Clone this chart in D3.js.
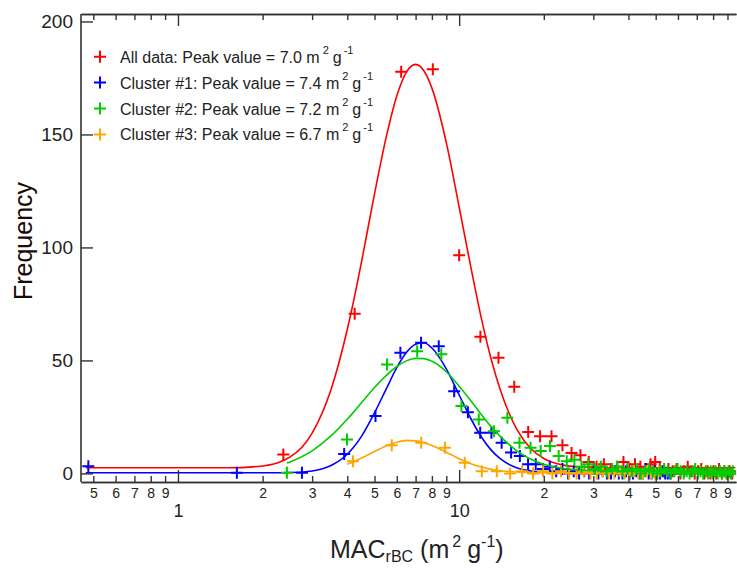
<!DOCTYPE html>
<html lang="en">
<head>
  <meta charset="UTF-8">
  <script src="https://cdnjs.cloudflare.com/ajax/libs/d3/7.8.5/d3.min.js"></script>
  <title>MAC frequency</title>
  <style>
    body { margin: 0; background: #fff; }
    text { font-family: "Liberation Sans", Arial, sans-serif; }
  </style>
</head>
<body>
<script>
  // histogram bins (MAC, m2/g) and counts
  var redBins = [2.37, 4.25, 6.22, 8.06, 10.0, 11.9, 13.8, 15.7, 17.6, 19.4, 21.3, 23.3, 25.1, 27.0, 28.9, 30.8, 32.7, 34.6, 36.5, 38.4, 40.3, 42.2, 44.1, 46.0, 47.9, 49.8, 51.7, 53.6, 55.5, 57.4, 59.3, 61.2, 63.1, 65.0, 66.9, 68.8, 70.7, 72.6, 74.5, 76.4, 78.3, 80.2, 82.1, 84.0, 85.9, 87.8, 89.7, 91.6, 93.5];
  var redCounts = [8.4, 70.7, 177.7, 178.8, 96.5, 60.5, 51.2, 38.4, 18.3, 16.5, 16.5, 12.5, 9, 8, 5, 3, 4, 2, 3, 5, 2, 4, 3, 2, 4, 5, 2, 1, 2, 1, 2, 0, 1, 3, 1, 0, 1, 2, 0, 1, 0, 1, 0, 2, 0, 1, 0, 1, 0];

  var blueBins = [0.48, 1.62, 2.76, 3.9, 5.04, 6.18, 7.32, 8.46, 9.6, 10.74, 11.88, 13.02, 14.16, 15.3, 16.44, 17.58, 18.72, 19.86, 21.0, 22.14, 23.28, 24.42, 25.56, 26.7, 27.84, 28.98, 30.12, 31.26, 32.4, 33.54, 34.68, 35.82, 36.96, 38.1, 39.24, 40.38, 41.52, 42.66, 43.8, 44.94, 46.08, 47.22, 48.36, 49.5, 50.64, 51.78, 52.92, 54.06, 55.2, 56.34];
  var blueCounts = [3.2, 0.3, 0.3, 8.6, 25.4, 53.4, 57.8, 56.3, 36.4, 27.1, 18, 18, 13.6, 9.2, 7.7, 4, 4, 2, 3, 1, 2, 0, 1, 0, 1, 0, 2, 0, 1, 0, 0, 1, 0, 0, 1, 0, 0, 1, 0, 0, 2, 0, 0, 1, 0, 0, 1, 0, 0, 0];

  var greenBins = [2.44, 3.99, 5.54, 7.09, 8.64, 10.19, 11.74, 13.29, 14.84, 16.39, 17.94, 19.49, 21.04, 22.59, 24.14, 25.69, 27.24, 28.79, 30.34, 31.89, 33.44, 34.99, 36.54, 38.09, 39.64, 41.19, 42.74, 44.29, 45.84, 47.39, 48.94, 50.49, 52.04, 53.59, 55.14, 56.69, 58.24, 59.79, 61.34, 62.89, 64.44, 65.99, 67.54, 69.09, 70.64, 72.19, 73.74, 75.29, 76.84, 78.39, 79.94, 81.49, 83.04, 84.59, 86.14, 87.69, 89.24, 90.79, 92.34, 93.89];
  var greenCounts = [0.3, 15, 48.2, 54.1, 52.7, 29.8, 23.9, 18.7, 24.6, 13.6, 11.4, 9.9, 12.1, 7.7, 5.4, 6, 3, 4, 2, 3, 1, 2, 3, 1, 2, 1, 2, 0, 1, 2, 1, 0, 1, 2, 1, 0, 1, 2, 1, 0, 1, 0, 1, 2, 0, 1, 0, 1, 0, 1, 0, 1, 0, 1, 0, 1, 0, 1, 0, 1];

  var orangeBins = [4.19, 5.76, 7.33, 8.9, 10.47, 12.04, 13.61, 15.18, 16.75, 18.32, 19.89, 21.46, 23.03, 24.6, 26.17, 27.74, 29.31, 30.88, 32.45, 34.02, 35.59, 37.16, 38.73, 40.3, 41.87, 43.44, 45.01, 46.58, 48.15, 49.72, 51.29];
  var orangeCounts = [5.4, 12.5, 13.6, 11.4, 4.7, 1, 1, 0, 1, 0, 1, 0, 1, 0, 0, 1, 0, 0, 1, 0, 0, 1, 0, 0, 1, 0, 0, 1, 0, 0, 1];

  // fitted curves read along a common MAC grid (null = not drawn)
  var fitX = [0.47, 1, 1.5, 2, 2.37, 2.44, 2.5, 3, 3.5, 4, 4.19, 4.5, 5, 5.5, 6, 6.5, 7, 7.5, 8, 9, 10, 11, 12, 13, 14, 16, 18, 20, 23, 26, 30, 40, 60, 96];
  var redFit = [2.5, 2.5, 2.5, 3.3, 5.7, 6.5, 7.2, 17.8, 37, 63.7, 74.9, 93.9, 123.7, 148.7, 167, 177.7, 181, 178.1, 170.5, 146.4, 117.9, 91.4, 68.5, 50.5, 37, 19.7, 10.9, 6.6, 3.9, 3.0, 2.6, 2.5, 2.5, 2.5];
  var blueFit = [0.3, 0.3, 0.3, 0.3, 0.3, 0.4, 0.4, 1.1, 3.5, 8.5, 11.2, 16.5, 26.8, 37.3, 46.8, 53.6, 57.2, 57.8, 55.5, 46.3, 34.7, 24.3, 16.1, 10.3, 6.5, 2.5, 1.1, 0.5, 0.3, 0.3, 0.3, 0.3, 0.3, 0.3];
  var greenFit = [null, null, null, null, null, 4.6, 5.1, 10, 16.6, 24, 26.8, 31.4, 38, 43.3, 47.3, 49.8, 50.9, 50.8, 49.6, 45, 38.6, 32.2, 26, 20.7, 16.4, 10.1, 6.3, 4.1, 2.35, 1.6, 1.2, 1.0, 1.0, 1.0];
  var orangeFit = [null, null, null, null, null, null, null, null, null, 4.1, 5.1, 6.8, 9.7, 12.1, 13.8, 14.6, 14.4, 13.6, 12.4, 9.4, 6.5, 4.3, 2.8, 1.8, 1.2, 0.6, 0.4, 0.3, 0.3, 0.3, 0.3, 0.3, 0.3, 0.3];

  var legendLabels = ["All data: Peak value = 7.0", "Cluster #1: Peak value = 7.4", "Cluster #2: Peak value = 7.2", "Cluster #3: Peak value = 6.7"];
  var yTicks = [0, 50, 100, 150, 200];
  var xMajorTicks = [1, 10];
  var xMinorTicks = [0.5, 0.6, 0.7, 0.8, 0.9, 2, 3, 4, 5, 6, 7, 8, 9, 20, 30, 40, 50, 60, 70, 80, 90];

  var width = 737, height = 569;
  var plotLeft = 81, plotRight = 736, plotTop = 14, plotBottom = 482;

  var svg = d3.select("body").append("svg")
    .attr("width", width)
    .attr("height", height);

  var x = d3.scaleLog().domain([0.452, 96.5]).range([plotLeft, plotRight]);
  var y = d3.scaleLinear().domain([-3.8, 203.3]).range([plotBottom, plotTop]);

  svg.append("clipPath").attr("id", "plot")
    .append("rect")
    .attr("x", plotLeft).attr("y", plotTop)
    .attr("width", plotRight - plotLeft).attr("height", plotBottom - plotTop);

  //series: colour, bins, counts, fit
  var series = [
    {color: "#ff0000", bins: redBins, counts: redCounts, fit: redFit},
    {color: "#0000ff", bins: blueBins, counts: blueCounts, fit: blueFit},
    {color: "#ffa500", bins: orangeBins, counts: orangeCounts, fit: orangeFit},
    {color: "#00cc00", bins: greenBins, counts: greenCounts, fit: greenFit}
  ];

  var line = d3.line()
    .defined(function(d){ return d[1] !== null; })
    .x(function(d){ return x(d[0]); })
    .y(function(d){ return y(d[1]); })
    .curve(d3.curveMonotoneX);

  var plot = svg.append("g").attr("clip-path", "url(#plot)");

  var cross = 6;
  series.forEach(function(s){
    var g = plot.append("g");
    g.append("path")
      .attr("d", line(fitX.map(function(v, i){ return [v, s.fit[i]]; })))
      .attr("fill", "none")
      .attr("stroke", s.color)
      .attr("stroke-width", 1.6);

    g.selectAll("path.mark")
      .data(s.bins.map(function(v, i){ return [v, s.counts[i]]; }))
      .enter().append("path")
      .attr("class", "mark")
      .attr("d", function(d){
        var px = x(d[0]), py = y(d[1]);
        return "M" + (px - cross) + "," + py + "H" + (px + cross) +
               "M" + px + "," + (py - cross) + "V" + (py + cross);
      })
      .attr("stroke", s.color)
      .attr("stroke-width", 2);
  });

  //axes, ticks pointing inwards
  var axisColor = "#333";
  function styleAxis(g){
    g.select(".domain").attr("stroke", axisColor).attr("stroke-width", 1.6);
    g.selectAll(".tick line").attr("stroke", axisColor).attr("stroke-width", 1.4);
  }

  svg.append("g")
    .attr("transform", "translate(0," + plotBottom + ")")
    .call(d3.axisBottom(x).tickValues(xMinorTicks).tickSize(-6).tickSizeOuter(0).tickFormat(function(d){ return d < 1 ? Math.round(d * 10) : (d < 10 ? d : d / 10); }))
    .call(styleAxis)
    .call(function(g){
      g.selectAll("text").attr("y", 0).attr("dy", 16).attr("font-size", 14).attr("fill", "#222");
    });

  svg.append("g")
    .attr("transform", "translate(0," + plotBottom + ")")
    .call(d3.axisBottom(x).tickValues(xMajorTicks).tickSize(-12).tickSizeOuter(0).tickFormat(d3.format("d")))
    .call(styleAxis)
    .call(function(g){
      g.selectAll("text").attr("y", 0).attr("dy", 35).attr("font-size", 18).attr("fill", "#222");
    });

  svg.append("g")
    .attr("transform", "translate(0," + plotTop + ")")
    .call(d3.axisTop(x).tickValues(xMinorTicks).tickSize(-6).tickSizeOuter(0).tickFormat(""))
    .call(styleAxis);

  svg.append("g")
    .attr("transform", "translate(0," + plotTop + ")")
    .call(d3.axisTop(x).tickValues(xMajorTicks).tickSize(-12).tickSizeOuter(0).tickFormat(""))
    .call(styleAxis);

  svg.append("g")
    .attr("transform", "translate(" + plotLeft + ",0)")
    .call(d3.axisLeft(y).tickValues(yTicks).tickSize(-12).tickSizeOuter(0).tickPadding(8))
    .call(styleAxis)
    .call(function(g){
      g.selectAll("text").attr("font-size", 19).attr("fill", "#222");
      g.select(".domain").attr("d", "M0," + plotTop + "V" + plotBottom);
    });

  //axis titles
  svg.append("text")
    .attr("transform", "translate(32,241) rotate(-90)")
    .attr("text-anchor", "middle")
    .attr("font-size", 25)
    .attr("fill", "#1a0a0a")
    .text("Frequency");

  var xt = svg.append("text")
    .attr("x", 330).attr("y", 558)
    .attr("font-size", 25)
    .attr("fill", "#222");
  xt.append("tspan").text("MAC");
  xt.append("tspan").attr("font-size", 16).attr("dy", 4).text("rBC");
  xt.append("tspan").attr("dy", -4).text(" (m");
  xt.append("tspan").attr("font-size", 16).attr("dy", -11).attr("dx", 3).text("2");
  xt.append("tspan").attr("dy", 11).attr("dx", 6).text("g");
  xt.append("tspan").attr("font-size", 16).attr("dy", -11).text("-1");
  xt.append("tspan").attr("dy", 11).text(")");

  //legend
  var legend = svg.append("g").selectAll("g")
    .data(series.slice(0, 2).concat([series[3], series[2]]))
    .enter().append("g")
    .attr("transform", function(d, i){ return "translate(100," + (56.7 + i * 25.9) + ")"; });

  legend.append("path")
    .attr("d", "M-6,0H6M0,-6V6")
    .attr("stroke", function(d){ return d.color; })
    .attr("stroke-width", 2);

  var lt = legend.append("text")
    .attr("x", 20).attr("y", 6)
    .attr("font-size", 16)
    .attr("fill", "#222");
  lt.append("tspan").text(function(d, i){ return legendLabels[i] + " m"; });
  lt.append("tspan").attr("font-size", 11).attr("dy", -9).attr("dx", 3).text("2");
  lt.append("tspan").attr("dy", 9).attr("dx", 4).text("g");
  lt.append("tspan").attr("font-size", 11).attr("dy", -9).attr("dx", 2).text("-1");
</script>
</body>
</html>
